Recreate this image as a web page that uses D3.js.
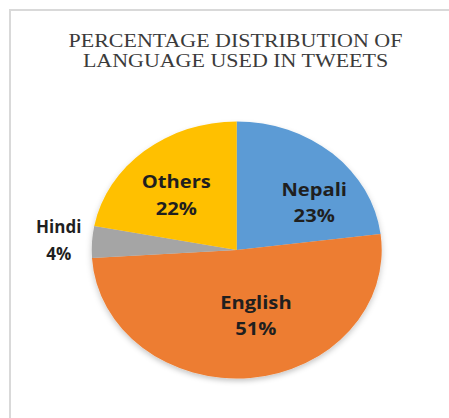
<!DOCTYPE html>
<html><head><meta charset="utf-8">
<script src="https://cdn.jsdelivr.net/npm/d3@7/dist/d3.min.js"></script>
<style>html,body{margin:0;padding:0;background:#fff;}svg{display:block;}</style>
</head><body>
<svg id="c" width="449" height="418"></svg>
<script>
const categories = ["Nepali", "English", "Hindi", "Others"];
const values = [23, 51, 4, 22];
const colors = ["#5b9bd5", "#ed7d31", "#a5a5a5", "#ffc000"];
const titleLines = ["PERCENTAGE DISTRIBUTION OF", "LANGUAGE USED IN TWEETS"];

const W = 449, H = 418;
const cx = 236.7, cy = 250, rx = 145, ry = 128.5;
const svg = d3.select("#c");

// frame
svg.append("path").attr("d", `M10,${H} L10,10 L${W},10`)
  .attr("fill", "none").attr("stroke", "#d9d9d9").attr("stroke-width", 2);

// title (horizontally stretched like the reference)
const tg = svg.append("g");
const tTexts = titleLines.map((t, i) => {
  const g = tg.append("g").attr("transform", `translate(235.5,${46.7 + i * 20})`);
  const txt = g.append("text").attr("x", 0).attr("y", 0)
    .attr("text-anchor", "middle")
    .attr("font-family", "'Liberation Serif','Times New Roman',serif")
    .attr("font-size", 18).attr("fill", "#3b3b3b").text(t);
  return {g, txt, y: 46.7 + i * 20};
});
const w0 = tTexts[0].txt.node().getComputedTextLength();
const sx = 334 / w0;
tTexts.forEach(o => o.g.attr("transform", `translate(235.5,${o.y}) scale(${sx},1)`));

// shadow filter
const defs = svg.append("defs");
const f = defs.append("filter").attr("id", "sh").attr("x", "-20%").attr("y", "-20%").attr("width", "140%").attr("height", "140%");
f.append("feDropShadow").attr("dx", 0).attr("dy", 3).attr("stdDeviation", 3)
  .attr("flood-color", "#000").attr("flood-opacity", 0.22);

const pie = d3.pie().sort(null).value(d => d)(values);
const arc = d3.arc().innerRadius(0).outerRadius(rx);

const g = svg.append("g").attr("transform", `translate(${cx},${cy}) scale(1,${ry / rx})`)
  .attr("filter", "url(#sh)");
g.selectAll("path").data(pie).join("path")
  .attr("d", arc).attr("fill", (d, i) => colors[i]);

// labels
const labelFrac = [0.6, 0.6, 1.23, 0.6];
const nudge = [[20, 11], [11, -10.5], [0, 0], [-5, 5]];
const inside = [true, true, false, true];
const lg = svg.append("g");
pie.forEach((d, i) => {
  const r = rx * labelFrac[i];
  const [px, py] = d3.arc().innerRadius(r).outerRadius(r).centroid(d);
  const x = cx + px + nudge[i][0];
  const y = cy + py * (ry / rx) + nudge[i][1];
  const s = inside[i] ? 1.09 : 1;
  const fsz = inside[i] ? 18.5 : 17;
  const gg = lg.append("g").attr("transform", `translate(${x},${y}) scale(${s},1)`);
  const t = gg.append("text").attr("text-anchor", "middle")
    .attr("font-family", "'Open Sans',sans-serif").attr("font-weight", "bold")
    .attr("font-size", fsz).attr("fill", "#1f1f1f");
  t.append("tspan").attr("x", 0).attr("y", inside[i] ? -7.5 : -7).text(categories[i]);
  t.append("tspan").attr("x", 0).attr("y", inside[i] ? 19.2 : 19.5).text(values[i] + "%");
});
</script>
</body></html>
